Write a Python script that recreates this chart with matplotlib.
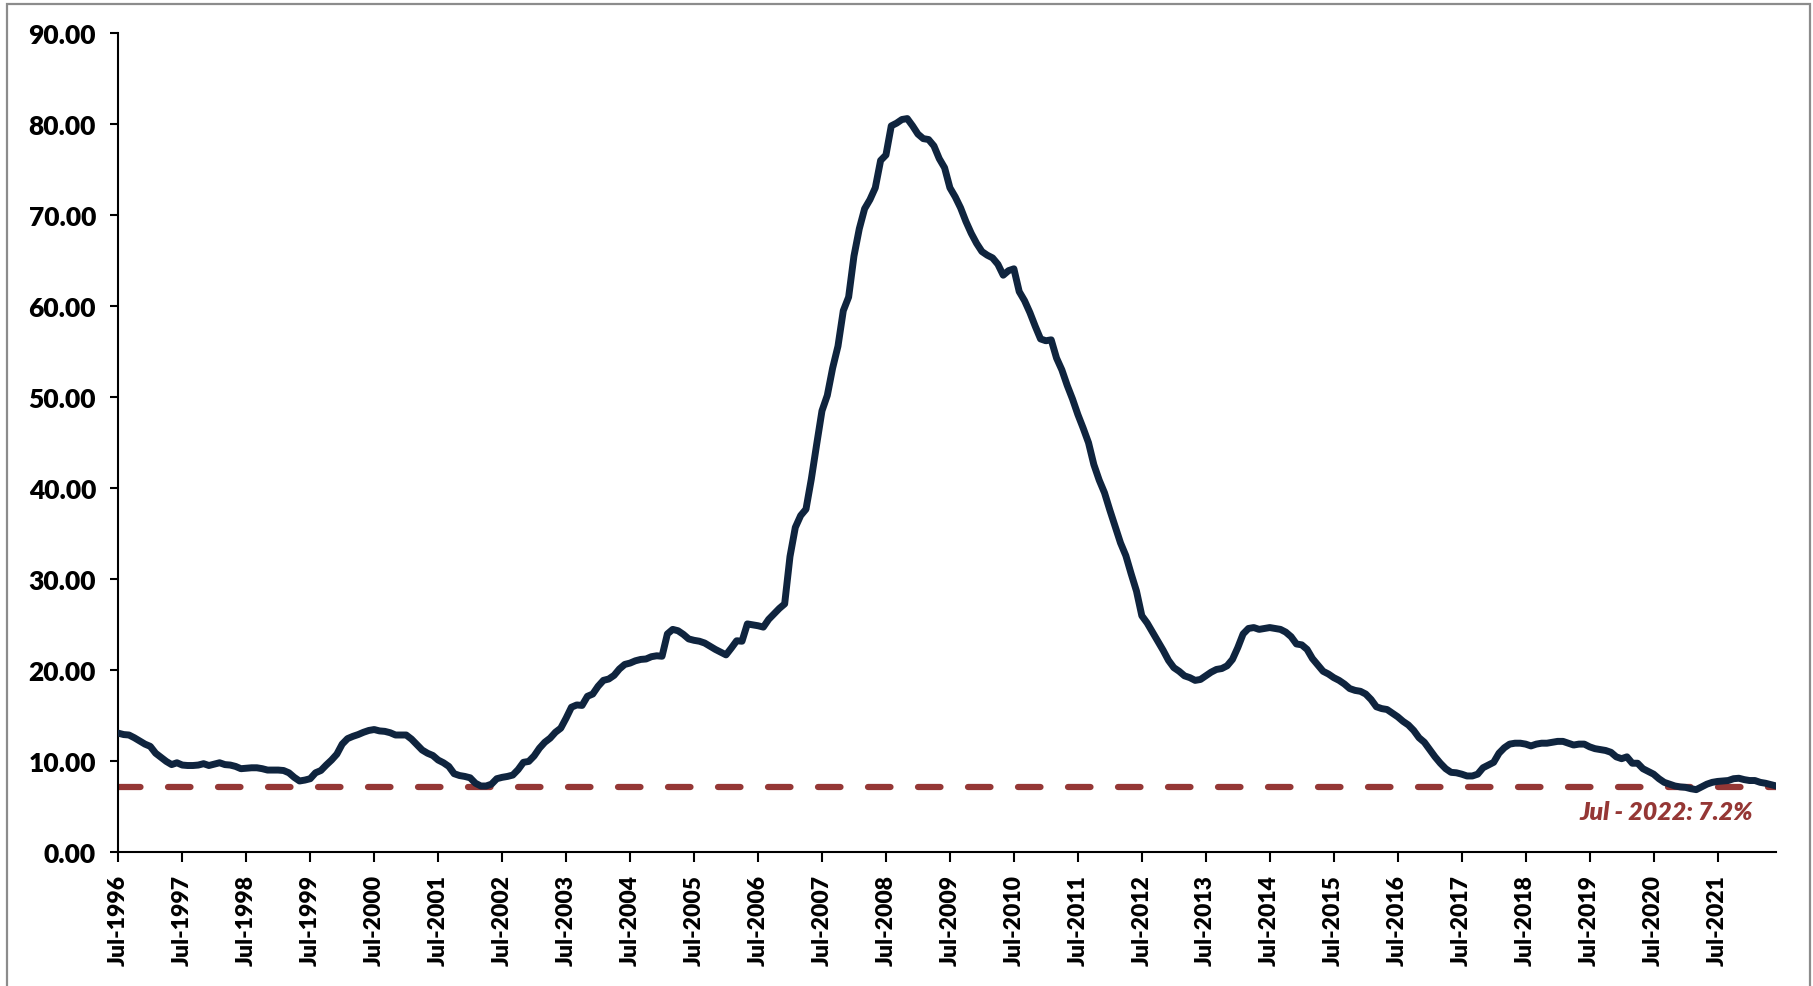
import matplotlib
matplotlib.use("Agg")
import matplotlib.pyplot as plt
from matplotlib.patches import Rectangle

# monthly values, Jul-1996 onwards (one row per Jul..Jun year)
ratio = [
    13.1, 12.95, 12.9, 12.6, 12.25, 11.9, 11.65, 10.9, 10.45, 10.0, 9.65, 9.85,
    9.6, 9.55, 9.55, 9.6, 9.75, 9.55, 9.7, 9.85, 9.65, 9.6, 9.45, 9.2,
    9.25, 9.3, 9.3, 9.2, 9.05, 9.05, 9.05, 9.0, 8.75, 8.25, 7.85, 7.95,
    8.1, 8.75, 9.0, 9.6, 10.15, 10.8, 11.9, 12.5, 12.75, 12.95, 13.2, 13.4,
    13.5, 13.35, 13.3, 13.15, 12.9, 12.9, 12.9, 12.45, 11.85, 11.25, 10.9, 10.65,
    10.15, 9.85, 9.45, 8.65, 8.45, 8.35, 8.2, 7.6, 7.3, 7.3, 7.5, 8.1,
    8.25, 8.35, 8.5, 9.1, 9.9, 10.0, 10.6, 11.45, 12.1, 12.55, 13.2, 13.65,
    14.75, 15.95, 16.2, 16.15, 17.15, 17.4, 18.25, 18.9, 19.05, 19.45, 20.15, 20.65,
    20.8, 21.05, 21.2, 21.25, 21.5, 21.6, 21.55, 24.0, 24.5, 24.35, 23.95, 23.45,
    23.3, 23.2, 23.0, 22.65, 22.3, 22.0, 21.7, 22.45, 23.25, 23.2, 25.1, 25.0,
    24.9, 24.75, 25.6, 26.2, 26.8, 27.3, 32.5, 35.7, 37.0, 37.7, 41.0, 44.8,
    48.5, 50.2, 53.2, 55.6, 59.5, 61.0, 65.5, 68.5, 70.7, 71.7, 73.0, 76.0,
    76.6, 79.8, 80.1, 80.5, 80.6, 79.8, 78.9, 78.4, 78.3, 77.6, 76.2, 75.2,
    73.0, 72.0, 70.8, 69.3, 68.0, 66.9, 66.0, 65.6, 65.3, 64.6, 63.4, 63.9,
    64.1, 61.6, 60.6, 59.3, 57.8, 56.4, 56.2, 56.3, 54.3, 53.0, 51.3, 49.8,
    48.1, 46.6, 45.0, 42.6, 40.9, 39.5, 37.6, 35.8, 34.0, 32.6, 30.6, 28.7,
    26.0, 25.2, 24.2, 23.2, 22.2, 21.1, 20.3, 19.9, 19.4, 19.2, 18.9, 19.0,
    19.4, 19.8, 20.1, 20.2, 20.5, 21.2, 22.5, 24.0, 24.6, 24.7, 24.5, 24.6,
    24.7, 24.6, 24.5, 24.2, 23.7, 22.9, 22.8, 22.3, 21.3, 20.6, 19.9, 19.6,
    19.2, 18.9, 18.5, 18.0, 17.8, 17.7, 17.4, 16.8, 16.0, 15.8, 15.7, 15.3,
    14.9, 14.4, 14.0, 13.4, 12.6, 12.1, 11.3, 10.5, 9.8, 9.2, 8.8, 8.75,
    8.6, 8.4, 8.4, 8.6, 9.3, 9.6, 9.9, 10.9, 11.5, 11.9, 12.0, 12.0,
    11.9, 11.7, 11.9, 12.0, 12.0, 12.1, 12.2, 12.2, 12.0, 11.8, 11.9, 11.9,
    11.6, 11.4, 11.3, 11.2, 11.0, 10.5, 10.3, 10.5, 9.8, 9.8, 9.2, 8.9,
    8.6, 8.1, 7.7, 7.5, 7.3, 7.2, 7.15, 7.0, 6.9, 7.2, 7.5, 7.7,
    7.8, 7.85, 7.9, 8.1, 8.15, 8.0, 7.9, 7.9, 7.7, 7.6, 7.45, 7.3,
]
latest_value = 7.2
latest_label = "Jul - 2022: 7.2%"
tick_years = list(range(1996, 2022))
tick_labels = [f"Jul-{y}" for y in tick_years]

NAVY = "#0F243E"
RED = "#953735"
FONT = ["Lato", "DejaVu Sans"]

plt.rcParams["font.family"] = FONT
plt.rcParams["font.weight"] = "bold"

fig = plt.figure(figsize=(18.13, 9.87), dpi=100)
ax = fig.add_axes([0.06525, 0.1353, 0.9797 - 0.06525, 0.96555 - 0.1353])

months = list(range(len(ratio)))
ax.plot(months, ratio, color=NAVY, lw=5.0, solid_joinstyle="round",
        solid_capstyle="round", zorder=3)
ax.axhline(latest_value, color=RED, lw=4.5, linestyle=(0, (3.6, 4.4)),
           dash_capstyle="round", zorder=2)

ax.text(306.7, 4.45, latest_label, color=RED, fontsize=18,
        fontweight="heavy", fontstyle="italic", ha="right", va="center")

ax.set_xlim(0, len(ratio) - 1)
ax.set_ylim(0, 90)
ax.set_yticks(range(0, 91, 10))
ax.set_yticklabels([f"{v:.2f}" for v in range(0, 91, 10)], fontweight="heavy")
ax.set_xticks([12 * i for i in range(len(tick_years))])
ax.set_xticklabels(tick_labels, rotation=90, va="top", ha="center",
                   fontweight="heavy")

for side in ("top", "right"):
    ax.spines[side].set_visible(False)
for side in ("left", "bottom"):
    ax.spines[side].set_linewidth(1.5)
    ax.spines[side].set_color("black")

ax.tick_params(axis="y", direction="out", length=6, width=1.5, pad=10,
               labelsize=19)
ax.tick_params(axis="x", direction="out", length=7.5, width=1.5, pad=8,
               labelsize=16.5)

# outer chart border
fig.add_artist(Rectangle((7 / 1813, -0.1), (1810 - 7) / 1813, 1.1 - 5 / 987,
                         transform=fig.transFigure, fill=False,
                         edgecolor="#8C8C8C", lw=1.6))

fig.savefig("out.png", dpi=100)
